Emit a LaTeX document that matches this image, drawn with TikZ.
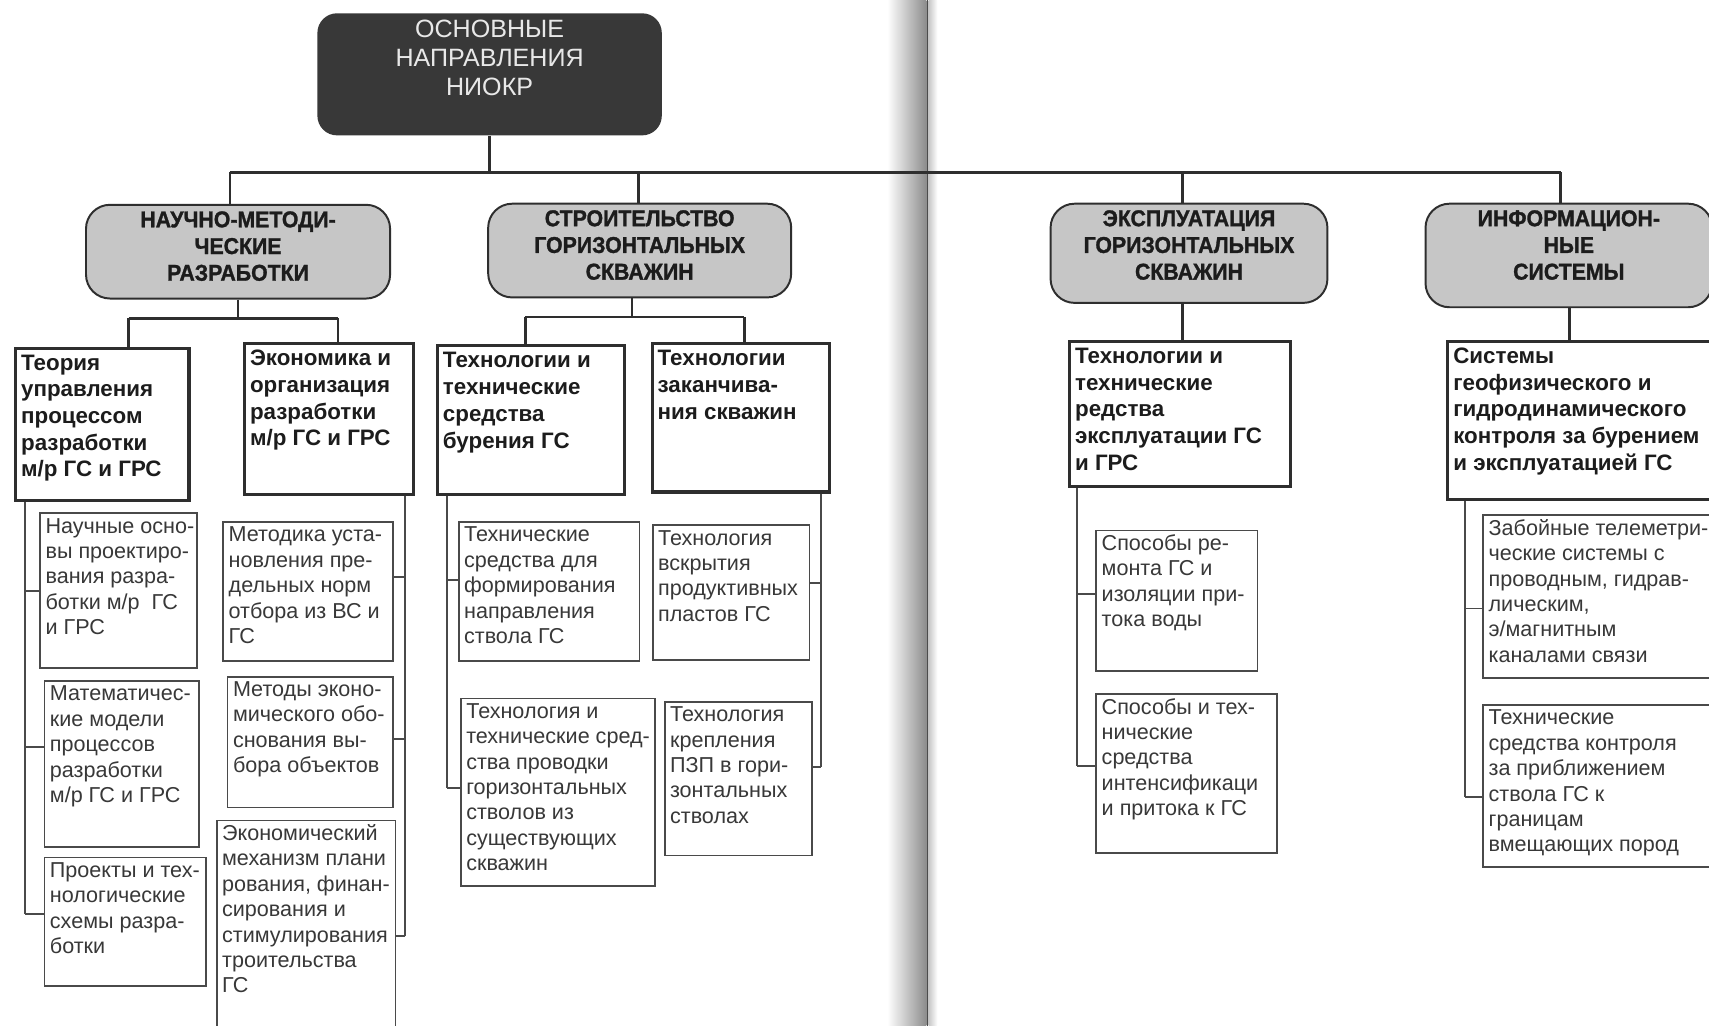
\documentclass[tikz,border=0pt]{standalone}
\usepackage{fontspec}
\setmainfont{Liberation Sans}
\newfontfamily\catfont[FakeStretch=0.93, BoldFeatures={FakeBold=1.3}]{Liberation Sans}
\usetikzlibrary{calc}
\definecolor{linec}{HTML}{2E2E2E}
\definecolor{leafc}{HTML}{4A4A4A}
\definecolor{txtmain}{HTML}{1C1C1C}
\definecolor{txtleaf}{HTML}{383838}
\definecolor{catfill}{HTML}{C6C6C6}
\definecolor{topfill}{HTML}{383838}
\definecolor{toptext}{HTML}{E8E8E8}
\newcommand{\bxt}[3]{\makebox[#1pt][l]{\parbox[c][#2pt][t]{500pt}{\baselineskip=\mybsk\relax\strut #3}}}
\newcommand{\bxc}[3]{\parbox[c][#2pt][t]{#1pt}{\baselineskip=\mybsk\relax\centering\strut #3}}
\def\mybsk{24pt}
\begin{document}
\begin{tikzpicture}[x=1pt,y=-1pt,
  leaf/.style={draw=leafc, line width=1.6pt, inner xsep=5pt, inner ysep=2pt, anchor=north west,
    text=txtleaf, font=\fontsize{19.8}{23.3}\selectfont\def\mybsk{23.3pt}},
  mainbox/.style={draw=linec, line width=2.8pt, inner xsep=5pt, inner ysep=3pt, anchor=north west,
    text=txtmain, font=\bfseries\fontsize{20.5}{24.5}\selectfont\def\mybsk{24.5pt}},
  catbox/.style={draw=linec, line width=1.8pt, rounded corners=22pt, fill=catfill, inner xsep=0pt,
    inner ysep=3.5pt, anchor=north west, text=txtmain,
    font=\catfont\bfseries\fontsize{21}{24.5}\selectfont\def\mybsk{24.5pt}},
  topbox/.style={fill=topfill, rounded corners=18pt, inner xsep=5pt, inner ysep=3.5pt, anchor=north west,
    text=toptext, font=\fontsize{23}{26.5}\selectfont\def\mybsk{26.5pt}},
  conn/.style={draw=linec, line width=2.4pt},
  thin/.style={draw=leafc, line width=1.8pt}
]
\useasboundingbox (0,0) rectangle (1568,941);
\fill[white] (0,0) rectangle (1568,941);
\clip (0,0) rectangle (1568,941);
% book gutter
\shade[left color=white, right color=black!45] (814,0) rectangle (850,941);
\shade[left color=black!22, right color=white] (852,0) rectangle (860,941);
\draw[black!70, line width=1.6pt] (851,0) -- (851,941);

% top
\node[topbox] (top) at (291,12) {\bxc{306}{105}{ОСНОВНЫЕ\\НАПРАВЛЕНИЯ\\НИОКР}};

% categories
\node[catbox] (k1) at (78,187) {\bxc{279}{79}{НАУЧНО-МЕТОДИ-\\ЧЕСКИЕ\\РАЗРАБОТКИ}};
\node[catbox] (k2) at (447,186) {\bxc{278}{79}{СТРОИТЕЛЬСТВО\\ГОРИЗОНТАЛЬНЫХ\\СКВАЖИН}};
\node[catbox] (k3) at (963,186) {\bxc{254}{84}{ЭКСПЛУАТАЦИЯ\\ГОРИЗОНТАЛЬНЫХ\\СКВАЖИН}};
\node[catbox] (k4) at (1307,186) {\bxc{263}{88}{ИНФОРМАЦИОН-\\НЫЕ\\СИСТЕМЫ}};

% main boxes
\node[mainbox] (A) at (13,318) {\bxt{149}{134}{Теория\\управления\\процессом\\разработки\\м/р ГС и ГРС}};
\node[mainbox] (B) at (223,314) {\bxt{145}{132}{Экономика и\\организация\\разработки\\м/р ГС и ГРС}};
\node[mainbox] (C) at (400,316) {\bxt{162}{130}{Технологии и\\технические\\средства\\бурения ГС}};
\node[mainbox] (D) at (597,314) {\bxt{153}{130}{Технологии\\заканчива-\\ния скважин}};
\node[mainbox] (E) at (980,312) {\bxt{193}{127}{Технологии и\\технические\\редства\\эксплуатации ГС\\и ГРС}};
\node[mainbox] (F) at (1327,312) {\bxt{260}{139}{Системы\\геофизического и\\гидродинамического\\контроля за бурением\\и эксплуатацией ГС}};

% leaves
\node[leaf] (a1) at (36,470) {\bxt{134}{138}{Научные осно-\\вы проектиро-\\вания разра-\\ботки м/р~~ГС\\и ГРС}};
\node[leaf] (a2) at (40,624) {\bxt{132}{148}{Математичес-\\кие модели\\процессов\\разработки\\м/р ГС и ГРС}};
\node[leaf] (a3) at (40,786) {\bxt{138}{114}{Проекты и тех-\\нологические\\схемы разра-\\ботки}};
\node[leaf] (b1) at (204,478) {\bxt{146}{124}{Методика уста-\\новления пре-\\дельных норм\\отбора из ВС и\\ГС}};
\node[leaf] (b2) at (208,620) {\bxt{142}{116}{Методы эконо-\\мического обо-\\снования вы-\\бора объектов}};
\node[leaf] (b3) at (198,752) {\bxt{154}{188}{Экономический\\механизм плани\\рования, финан-\\сирования и\\стимулирования\\троительства\\ГС}};
\node[leaf] (cc1) at (420,478) {\bxt{156}{124}{Технические\\средства для\\формирования\\направления\\ствола ГС}};
\node[leaf] (cc2) at (422,640) {\bxt{168}{168}{Технология и\\технические сред-\\ства проводки\\горизонтальных\\стволов из\\существующих\\скважин}};
\node[leaf] (d1) at (598,481) {\bxt{134}{120}{Технология\\вскрытия\\продуктивных\\пластов ГС}};
\node[leaf] (d2) at (609,643) {\bxt{125}{137}{Технология\\крепления\\ПЗП в гори-\\зонтальных\\стволах}};
\node[leaf] (e1) at (1005,486) {\bxt{138}{125}{Способы ре-\\монта ГС и\\изоляции при-\\тока воды}};
\node[leaf] (e2) at (1005,636) {\bxt{156}{142}{Способы и тех-\\нические\\средства\\интенсификаци\\и притока к ГС}};
\node[leaf] (f1) at (1360,472) {\bxt{220}{145}{Забойные телеметри-\\ческие системы с\\проводным, гидрав-\\лическим,\\э/магнитным\\каналами связи}};
\node[leaf] (f2) at (1360,646) {\bxt{220}{145}{Технические\\средства контроля\\за приближением\\ствола ГС к\\границам\\вмещающих пород}};

% top level connectors
\coordinate (busL) at (211,158);
\coordinate (busR) at (1432,158);
\coordinate (bus2) at (586,158);
\coordinate (bus3) at (1085,158);
\draw[conn] (top.south) -- (top.south |- busL);
\draw[conn] (busL) -- (busR);
\draw[conn] (busL) -- (busL |- k1.north);
\draw[conn] (bus2) -- (bus2 |- k2.north);
\draw[conn] (bus3) -- (bus3 |- k3.north);
\draw[conn] (busR) -- (busR |- k4.north);

% second level
\coordinate (j1a) at (118,292);
\coordinate (j1b) at (310,292);
\draw[conn] (k1.south) -- (k1.south |- j1a);
\draw[conn] (j1a) -- (j1b);
\draw[conn] (j1a) -- (j1a |- A.north);
\draw[conn] (j1b) -- (j1b |- B.north);
\coordinate (j2a) at (482,291);
\coordinate (j2b) at (683,291);
\coordinate (j2m) at (580,0);
\draw[conn] (k2.south -| j2m) -- (j2m |- j2a);
\draw[conn] (j2a) -- (j2b);
\draw[conn] (j2a) -- (j2a |- C.north);
\draw[conn] (j2b) -- (j2b |- D.north);
\coordinate (j3) at (1085,0);
\draw[conn] (k3.south -| j3) -- (j3 |- E.north);
\coordinate (j4) at (1440,0);
\draw[conn] (k4.south -| j4) -- (j4 |- F.north);

% leaf spines
\coordinate (xA) at (23,0);
\draw[thin] (A.south -| xA) -- ([yshift=7pt]a3.west -| xA);
\draw[thin] (a1.west -| xA) -- (a1.west);
\draw[thin] ([yshift=15pt]a2.west -| xA) -- ([yshift=15pt]a2.west);
\draw[thin] ([yshift=7pt]a3.west -| xA) -- ([yshift=7pt]a3.west);

\coordinate (xB) at (372,0);
\draw[thin] (B.south -| xB) -- ([yshift=-10pt]b3.east -| xB);
\draw[thin] ([yshift=13pt]b1.east -| xB) -- ([yshift=13pt]b1.east);
\draw[thin] ([yshift=3pt]b2.east -| xB) -- ([yshift=3pt]b2.east);
\draw[thin] ([yshift=-10pt]b3.east -| xB) -- ([yshift=-10pt]b3.east);

\coordinate (xC) at (410,0);
\draw[thin] (C.south -| xC) -- ([yshift=4pt]cc2.west -| xC);
\draw[thin] ([yshift=11pt]cc1.west -| xC) -- ([yshift=11pt]cc1.west);
\draw[thin] ([yshift=4pt]cc2.west -| xC) -- ([yshift=4pt]cc2.west);

\coordinate (xD) at (753,0);
\draw[thin] (D.south -| xD) -- ([yshift=11pt]d2.east -| xD);
\draw[thin] ([yshift=9pt]d1.east -| xD) -- ([yshift=9pt]d1.east);
\draw[thin] ([yshift=11pt]d2.east -| xD) -- ([yshift=11pt]d2.east);

\coordinate (xE) at (988,0);
\draw[thin] (E.south -| xE) -- ([yshift=7pt]e2.west -| xE);
\draw[thin] ([yshift=6pt]e1.west -| xE) -- ([yshift=6pt]e1.west);
\draw[thin] ([yshift=7pt]e2.west -| xE) -- ([yshift=7pt]e2.west);

\coordinate (xF) at (1344,0);
\draw[thin] (F.south -| xF) -- ([yshift=-10pt]f2.west -| xF);
\draw[thin] ([yshift=-11pt]f1.west -| xF) -- ([yshift=-11pt]f1.west);
\draw[thin] ([yshift=-10pt]f2.west -| xF) -- ([yshift=-10pt]f2.west);
\end{tikzpicture}
\end{document}
